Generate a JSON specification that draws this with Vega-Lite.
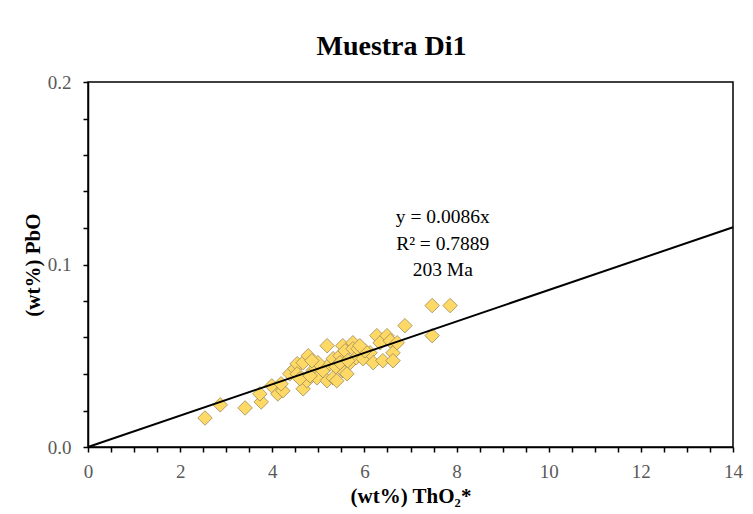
{
  "$schema": "https://vega.github.io/schema/vega-lite/v6.json",
  "width": 645,
  "height": 365,
  "autosize": {"type": "none"},
  "padding": {"left": 88, "top": 82, "right": 20, "bottom": 67},
  "background": "white",
  "title": {
    "text": "Muestra Di1",
    "font": "Liberation Serif",
    "fontSize": 28,
    "fontWeight": "bold",
    "color": "black",
    "anchor": "middle",
    "dx": -19,
    "offset": 12
  },
  "config": {
    "view": {"stroke": "black", "strokeWidth": 1.5},
    "axis": {
      "grid": false,
      "domainColor": "black",
      "domainWidth": 1.5,
      "tickColor": "black",
      "tickWidth": 1.5,
      "tickSize": 5,
      "labelFont": "Liberation Serif",
      "labelFontSize": 19,
      "labelColor": "#595959",
      "titleFont": "Liberation Serif",
      "titleFontSize": 21,
      "titleFontWeight": "bold",
      "titleColor": "black",
      "labelOverlap": false,
      "labelFlush": false
    }
  },
  "datasets": {
    "pts": [
      {"thO2": 2.54, "pbO": 0.0159},
      {"thO2": 2.87, "pbO": 0.0231},
      {"thO2": 3.41, "pbO": 0.0214},
      {"thO2": 3.76, "pbO": 0.0247},
      {"thO2": 3.73, "pbO": 0.0291},
      {"thO2": 3.99, "pbO": 0.0335},
      {"thO2": 4.12, "pbO": 0.0291},
      {"thO2": 4.23, "pbO": 0.0308},
      {"thO2": 4.19, "pbO": 0.0346},
      {"thO2": 4.38, "pbO": 0.0401},
      {"thO2": 4.49, "pbO": 0.0429},
      {"thO2": 4.54, "pbO": 0.0456},
      {"thO2": 4.54, "pbO": 0.0401},
      {"thO2": 4.67, "pbO": 0.0462},
      {"thO2": 4.67, "pbO": 0.0319},
      {"thO2": 4.75, "pbO": 0.0363},
      {"thO2": 4.78, "pbO": 0.05},
      {"thO2": 4.88, "pbO": 0.0418},
      {"thO2": 4.97, "pbO": 0.0379},
      {"thO2": 5.1, "pbO": 0.0418},
      {"thO2": 5.19, "pbO": 0.0555},
      {"thO2": 5.19, "pbO": 0.0363},
      {"thO2": 5.25, "pbO": 0.0456},
      {"thO2": 5.32, "pbO": 0.0484},
      {"thO2": 5.32, "pbO": 0.0379},
      {"thO2": 5.4, "pbO": 0.0363},
      {"thO2": 5.47, "pbO": 0.05},
      {"thO2": 5.53, "pbO": 0.0555},
      {"thO2": 5.53, "pbO": 0.0418},
      {"thO2": 5.58, "pbO": 0.0527},
      {"thO2": 5.62, "pbO": 0.0401},
      {"thO2": 5.69, "pbO": 0.0462},
      {"thO2": 5.75, "pbO": 0.0571},
      {"thO2": 5.75, "pbO": 0.0538},
      {"thO2": 5.82, "pbO": 0.0489},
      {"thO2": 5.97, "pbO": 0.0484},
      {"thO2": 6.12, "pbO": 0.0516},
      {"thO2": 6.19, "pbO": 0.0462},
      {"thO2": 6.27, "pbO": 0.061},
      {"thO2": 6.34, "pbO": 0.0571},
      {"thO2": 6.4, "pbO": 0.0473},
      {"thO2": 6.49, "pbO": 0.061},
      {"thO2": 6.56, "pbO": 0.0582},
      {"thO2": 6.62, "pbO": 0.0516},
      {"thO2": 6.62, "pbO": 0.0473},
      {"thO2": 6.71, "pbO": 0.0571},
      {"thO2": 6.88, "pbO": 0.0665},
      {"thO2": 7.47, "pbO": 0.0775},
      {"thO2": 7.86, "pbO": 0.0775},
      {"thO2": 7.47, "pbO": 0.061},
      {"thO2": 4.99, "pbO": 0.0462},
      {"thO2": 5.38, "pbO": 0.044},
      {"thO2": 5.47, "pbO": 0.0462},
      {"thO2": 5.86, "pbO": 0.0538},
      {"thO2": 6.01, "pbO": 0.0527},
      {"thO2": 4.86, "pbO": 0.0473},
      {"thO2": 4.6, "pbO": 0.0374},
      {"thO2": 4.82, "pbO": 0.039},
      {"thO2": 5.9, "pbO": 0.0555},
      {"thO2": 5.64, "pbO": 0.0473}
    ],
    "fit": [
      {"thO2": 0, "pbO": 0},
      {"thO2": 14, "pbO": 0.1204}
    ]
  },
  "layer": [
    {
      "data": {"name": "pts"},
      "mark": {"type": "point", "shape": "diamond", "filled": true, "size": 210, "fill": "#ffd966", "stroke": "#9c8a5a", "strokeWidth": 0.8, "opacity": 1},
      "encoding": {
        "x": {
          "field": "thO2", "type": "quantitative",
          "scale": {"domain": [0, 14], "nice": false, "zero": false},
          "axis": {
            "title": "(wt%) ThO₂*",
            "values": [0,0.5,1,1.5,2,2.5,3,3.5,4,4.5,5,5.5,6,6.5,7,7.5,8,8.5,9,9.5,10,10.5,11,11.5,12,12.5,13,13.5,14],
            "tickCount": 100,
            "labelExpr": "datum.value % 2 == 0 ? format(datum.value, 'd') : ''",
            "labelFont": "Liberation Serif",
            "labelFontSize": 19,
            "labelPadding": 10,
            "titlePadding": 4
          }
        },
        "y": {
          "field": "pbO", "type": "quantitative",
          "scale": {"domain": [0, 0.2], "nice": false},
          "axis": {
            "title": "(wt%) PbO",
            "values": [0,0.02,0.04,0.06,0.08,0.1,0.12,0.14,0.16,0.18,0.2],
            "tickCount": 100,
            "labelExpr": "abs(datum.value*10 - round(datum.value*10)) < 0.001 ? format(datum.value, '.1f') : ''",
            "labelFont": "Liberation Serif",
            "labelFontSize": 19,
            "labelPadding": 12,
            "titlePadding": 4
          }
        }
      }
    },
    {
      "data": {"name": "fit"},
      "mark": {"type": "line", "color": "black", "strokeWidth": 2},
      "encoding": {
        "x": {"field": "thO2", "type": "quantitative"},
        "y": {"field": "pbO", "type": "quantitative"}
      }
    },
    {
      "data": {"values": [{"label": "trend"}]},
      "mark": {"type": "text", "font": "Liberation Serif", "fontSize": 19.5, "lineHeight": 26.5, "align": "center", "baseline": "alphabetic", "color": "black",
        "text": ["y = 0.0086x", "R² = 0.7889", "203 Ma"]},
      "encoding": {
        "x": {"datum": 7.7},
        "y": {"datum": 0.1225}
      }
    }
  ]
}
